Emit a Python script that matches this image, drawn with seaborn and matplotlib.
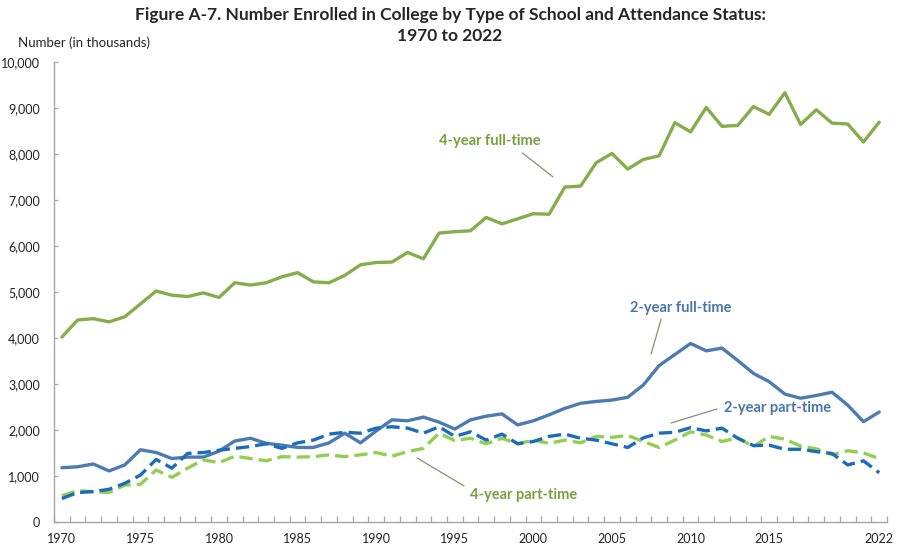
import numpy as np
import pandas as pd
import matplotlib
matplotlib.use('Agg')
import matplotlib.pyplot as plt
import seaborn as sns

# values (thousands)
years = list(range(1970, 2023))

four_year_ft = [4020, 4390, 4420, 4350, 4460, 4740, 5020, 4930, 4900, 4980,
                4880, 5200, 5150, 5200, 5330, 5420, 5220, 5200, 5360, 5590,
                5640, 5650, 5860, 5720, 6280, 6310, 6330, 6620, 6480, 6590,
                6700, 6690, 7280, 7300, 7810, 8010, 7670, 7880, 7960, 8680,
                8480, 9010, 8600, 8620, 9030, 8860, 9330, 8640, 8960, 8670,
                8650, 8260, 8690]

two_year_ft = [1180, 1200, 1260, 1110, 1240, 1570, 1510, 1380, 1410, 1410,
               1540, 1760, 1820, 1710, 1670, 1620, 1620, 1720, 1930, 1720,
               1980, 2220, 2200, 2280, 2170, 2020, 2220, 2300, 2350, 2110,
               2200, 2330, 2470, 2580, 2620, 2650, 2710, 2980, 3400, 3640,
               3880, 3720, 3780, 3510, 3230, 3050, 2780, 2690, 2750, 2820,
               2540, 2180, 2390]

two_year_pt = [510, 640, 660, 710, 840, 1020, 1360, 1170, 1490, 1510,
               1560, 1600, 1640, 1700, 1600, 1720, 1780, 1910, 1950, 1930,
               2040, 2070, 2040, 1930, 2070, 1860, 1960, 1780, 1910, 1700,
               1750, 1860, 1910, 1820, 1780, 1700, 1620, 1830, 1930, 1950,
               2050, 1980, 2040, 1820, 1660, 1670, 1580, 1580, 1530, 1490,
               1240, 1330, 1070]

four_year_pt = [570, 680, 660, 640, 800, 820, 1130, 970, 1170, 1350,
                1290, 1430, 1380, 1330, 1420, 1410, 1420, 1460, 1420, 1460,
                1510, 1430, 1530, 1600, 1930, 1770, 1820, 1700, 1820, 1700,
                1780, 1710, 1780, 1720, 1860, 1840, 1880, 1750, 1620, 1780,
                1960, 1890, 1750, 1830, 1640, 1860, 1800, 1650, 1590, 1460,
                1550, 1500, 1380]

x_labels = [1970, 1975, 1980, 1985, 1990, 1995, 2000, 2005, 2010, 2015, 2022]
y_ticks = list(range(0, 10001, 1000))

c_4ft = '#86AD4B'
c_2ft = '#4D7AB3'
c_2pt = '#1C6CBC'
c_4pt = '#92CF50'

sns.set_style('white')
plt.rcParams['font.family'] = ['Lato', 'DejaVu Sans']

fig = plt.figure(figsize=(9, 5.49), dpi=100)
ax = fig.add_axes([0.06, 0.0492, 0.9256, 0.838])

sns.lineplot(x=years, y=four_year_ft, color=c_4ft, lw=2.4, ax=ax)
sns.lineplot(x=years, y=two_year_ft, color=c_2ft, lw=2.4, ax=ax)
sns.lineplot(x=years, y=four_year_pt, color=c_4pt, lw=2.4, ax=ax)
ax.lines[-1].set_dashes((4, 1.8))
sns.lineplot(x=years, y=two_year_pt, color=c_2pt, lw=2.4, ax=ax)
ax.lines[-1].set_dashes((4, 1.8))

ax.set_xlim(1969.5, 2022.5)
ax.set_ylim(0, 10000)
ax.set_xticks(x_labels)
ax.set_xticklabels([str(v) for v in x_labels], fontsize=9)
ax.set_xticks(np.arange(1969.5, 2023, 1), minor=True)
ax.set_yticks(y_ticks)
ax.set_yticklabels([f'{v:,}' for v in y_ticks], fontsize=9)
ax.tick_params(axis='x', which='major', length=0, pad=8, colors='#222222')
ax.tick_params(axis='x', which='minor', direction='in', length=4, color='#A6A6A6', width=0.9, bottom=True)
ax.tick_params(axis='y', direction='in', length=3, width=0.9, left=True, pad=10, labelcolor='#222222', color='#A6A6A6')
for s in ['top', 'right']:
    ax.spines[s].set_visible(False)
for s in ['left', 'bottom']:
    ax.spines[s].set_color('#A6A6A6')
    ax.spines[s].set_linewidth(1.0)

fig.text(0.5, 0.972, 'Figure A-7. Number Enrolled in College by Type of School and Attendance Status:',
         ha='center', va='center', fontsize=12.5, fontweight='bold')
fig.text(0.5, 0.935, '1970 to 2022', ha='center', va='center', fontsize=12.5, fontweight='bold')
fig.text(0.02, 0.922, 'Number (in thousands)', ha='left', va='center', fontsize=9.5)

# series labels with leader lines
lead = '#8C8C6E'
green_txt = '#77A03D'
blue_txt = '#4A74AC'
labels = [
    ('4-year full-time', (1997.2, 8283), (1999.3, 8022), (2001.25, 7500), green_txt),
    ('2-year full-time', (2009.4, 4645), (2008.13, 4413), (2007.49, 3652), blue_txt),
    ('2-year part-time', (2015.55, 2478), (2011.69, 2457), (2008.76, 2152), blue_txt),
    ('4-year part-time', (1999.35, 587), (1992.6, 1391), (1995.59, 783), green_txt),
]
for txt, pos, p0, p1, col in labels:
    ax.text(pos[0], pos[1], txt, fontsize=10.5, fontweight='bold', color=col,
            ha='center', va='center')
    ax.annotate('', xy=p1, xytext=p0,
                arrowprops=dict(arrowstyle='-', color=lead, lw=0.9, shrinkA=0, shrinkB=0))

fig.savefig('out.png', dpi=100)
